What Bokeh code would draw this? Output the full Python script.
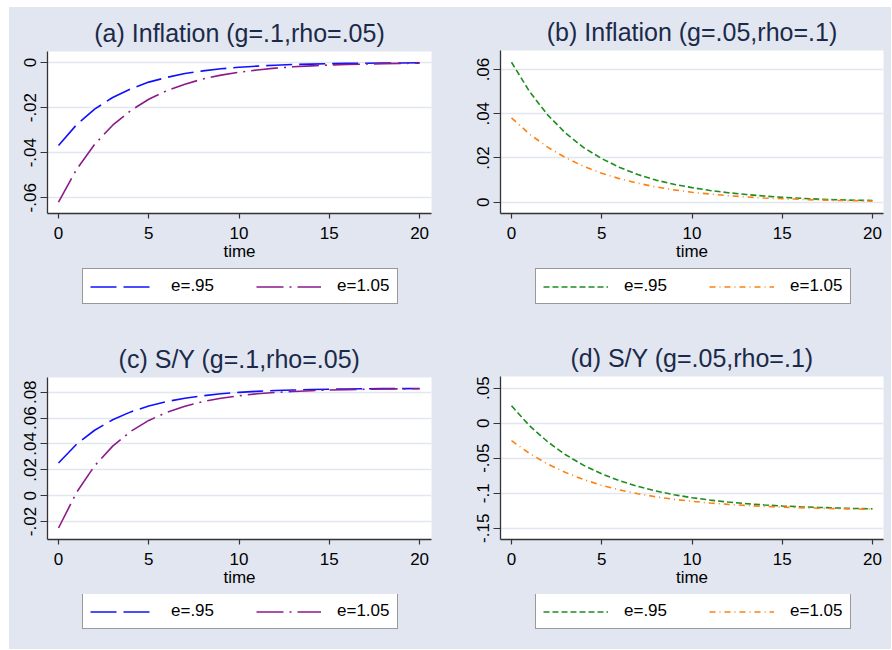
from bokeh.plotting import figure
from bokeh.models import Range1d, FixedTicker, Legend, LegendItem, Spacer
from bokeh.layouts import row, column
from bokeh.embed import file_html
from bokeh.resources import INLINE

# ---------------- data ----------------
time = list(range(21))

# (a) Inflation (g=.1, rho=.05)
infl_a_e095 = [-0.0368, -0.0276, -0.0207, -0.0155, -0.0117, -0.0087, -0.0066, -0.0049, -0.0037, -0.0028,
               -0.0021, -0.0016, -0.0012, -0.0009, -0.0007, -0.0005, -0.0004, -0.0003, -0.0002, -0.0002, -0.0001]
infl_a_e105 = [-0.0619, -0.0474, -0.0363, -0.0278, -0.0213, -0.0163, -0.0125, -0.0096, -0.0073, -0.0056,
               -0.0043, -0.0033, -0.0025, -0.0019, -0.0015, -0.0011, -0.0009, -0.0007, -0.0005, -0.0004, -0.0003]
# (b) Inflation (g=.05, rho=.1)
infl_b_e095 = [0.0633, 0.0500, 0.0395, 0.0312, 0.0247, 0.0197, 0.0157, 0.0125, 0.0100, 0.0081,
               0.0066, 0.0053, 0.0043, 0.0035, 0.0028, 0.0022, 0.0018, 0.0014, 0.0011, 0.0009, 0.0008]
infl_b_e105 = [0.0381, 0.0308, 0.0249, 0.0201, 0.0162, 0.0131, 0.0106, 0.0086, 0.0069, 0.0056,
               0.0045, 0.0037, 0.0030, 0.0024, 0.0019, 0.0016, 0.0013, 0.0010, 0.0008, 0.0007, 0.0005]
# (c) S/Y (g=.1, rho=.05)
sy_c_e095 = [0.0253, 0.0398, 0.0506, 0.0587, 0.0648, 0.0694, 0.0728, 0.0754, 0.0773, 0.0788,
             0.0799, 0.0807, 0.0813, 0.0817, 0.0821, 0.0823, 0.0825, 0.0827, 0.0828, 0.0828, 0.0829]
sy_c_e105 = [-0.0250, 0.0025, 0.0231, 0.0383, 0.0497, 0.0582, 0.0645, 0.0692, 0.0728, 0.0754,
             0.0773, 0.0788, 0.0798, 0.0806, 0.0812, 0.0817, 0.0820, 0.0823, 0.0825, 0.0826, 0.0827]
# (d) S/Y (g=.05, rho=.1)
sy_d_e095 = [0.0248, -0.0036, -0.0265, -0.0451, -0.0602, -0.0724, -0.0823, -0.0903, -0.0968, -0.1021,
             -0.1064, -0.1098, -0.1126, -0.1149, -0.1167, -0.1182, -0.1194, -0.1203, -0.1211, -0.1218, -0.1223]
sy_d_e105 = [-0.0248, -0.0432, -0.0583, -0.0705, -0.0805, -0.0887, -0.0953, -0.1007, -0.1051, -0.1087,
             -0.1116, -0.1140, -0.1159, -0.1175, -0.1188, -0.1199, -0.1207, -0.1214, -0.1220, -0.1225, -0.1228]

series_labels = ["e=.95", "e=1.05"]
titles = ["(a) Inflation (g=.1,rho=.05)", "(b) Inflation (g=.05,rho=.1)",
          "(c) S/Y (g=.1,rho=.05)", "(d) S/Y (g=.05,rho=.1)"]
x_ticks = [0, 5, 10, 15, 20]
x_title = "time"

yticks_a = [-0.06, -0.04, -0.02, 0]
ylabels_a = ["-.06", "-.04", "-.02", "0"]
yticks_b = [0, 0.02, 0.04, 0.06]
ylabels_b = ["0", ".02", ".04", ".06"]
yticks_c = [-0.02, 0, 0.02, 0.04, 0.06, 0.08]
ylabels_c = ["-.02", "0", ".02", ".04", ".06", ".08"]
yticks_d = [-0.15, -0.1, -0.05, 0, 0.05]
ylabels_d = ["-.15", "-.1", "-.05", "0", ".05"]

# ---------------- style ----------------
BG = "#e1e6f0"
GRID = "#e1e6f0"
FONT = "Liberation Sans"
AXIS_COL = "#333333"
TITLE_COL = "#1c2a4a"


def make_panel(title, ys, colors, dashes, yticks, ylabels, yr, xr, W, H, bl, br, bt, bb):
    p = figure(width=W, height=H, x_range=Range1d(*xr), y_range=Range1d(*yr),
               output_backend="svg", toolbar_location=None,
               min_border_left=bl, min_border_right=br, min_border_top=bt, min_border_bottom=bb,
               background_fill_color="white", border_fill_color=BG, outline_line_color=None)
    p.title.text = title
    p.title.align = "center"
    p.title.text_font = FONT
    p.title.text_font_size = "25px"
    p.title.text_font_style = "normal"
    p.title.text_color = TITLE_COL
    p.title.standoff = 10

    for y, c, d in zip(ys, colors, dashes):
        p.line(time, y, line_color=c, line_width=1.6, line_dash=d)

    p.xgrid.visible = False
    p.ygrid.grid_line_color = GRID
    p.ygrid.grid_line_width = 1.5
    p.ygrid.ticker = FixedTicker(ticks=yticks)

    p.xaxis.ticker = FixedTicker(ticks=x_ticks)
    p.yaxis.ticker = FixedTicker(ticks=yticks)
    p.yaxis.major_label_overrides = {t: l for t, l in zip(yticks, ylabels)}
    p.yaxis.major_label_orientation = "vertical"
    p.xaxis.axis_label = x_title
    for ax in (p.xaxis, p.yaxis):
        ax.axis_line_color = AXIS_COL
        ax.axis_line_width = 1.3
        ax.major_tick_line_color = AXIS_COL
        ax.major_tick_line_width = 1.2
        ax.major_tick_in = 0
        ax.minor_tick_line_color = None
        ax.major_label_text_font = FONT
        ax.major_label_text_font_size = "17px"
        ax.major_label_text_color = "black"
        ax.axis_label_text_font = FONT
        ax.axis_label_text_font_size = "17px"
        ax.axis_label_text_font_style = "normal"
        ax.axis_label_text_color = "black"
    p.xaxis.major_tick_out = 5
    p.yaxis.major_tick_out = 7
    p.xaxis.major_label_standoff = 8
    p.yaxis.major_label_standoff = 4
    p.xaxis.axis_label_standoff = 0
    return p


def make_legend_fig(colors, dashes, W, H, leg_xy):
    lf = figure(width=W, height=H, x_range=Range1d(0, 1), y_range=Range1d(0, 1),
                output_backend="svg", toolbar_location=None, x_axis_type=None, y_axis_type=None,
                min_border_left=0, min_border_right=0, min_border_top=0, min_border_bottom=0,
                background_fill_color=BG, border_fill_color=BG, outline_line_color=None)
    lf.xgrid.visible = False
    lf.ygrid.visible = False
    # legend keys only: kept outside the (0, 1) view so nothing shows but the key glyphs
    keys = [lf.line(x=[-2, -1], y=[-2, -1], line_color=c, line_width=1.6, line_dash=d)
            for c, d in zip(colors, dashes)]
    legend = Legend(items=[LegendItem(label=series_labels[i], renderers=[keys[i]]) for i in range(2)],
                    orientation="horizontal", location=leg_xy)
    legend.label_text_font = FONT
    legend.label_text_font_size = "17px"
    legend.label_text_color = "black"
    legend.glyph_width = 65
    legend.glyph_height = 17
    legend.label_height = 17
    legend.label_standoff = 16
    legend.spacing = 42
    legend.padding = 7
    legend.margin = 0
    legend.border_line_color = AXIS_COL
    legend.border_line_width = 1.4
    legend.background_fill_color = "white"
    legend.background_fill_alpha = 1.0
    lf.add_layout(legend)
    return lf


blue, purple, green, orange = "#1010ff", "#8b1a8b", "#1e8c1e", "#ff8010"
d_long, d_longdot = "26 7", "27 6 2 6"
d_short, d_dashdot = "6 3", "6 4 1 4"
ab_cols, ab_dash = [blue, purple], [d_long, d_longdot]
bd_cols, bd_dash = [green, orange], [d_short, d_dashdot]

pa = make_panel(titles[0], [infl_a_e095, infl_a_e105], ab_cols, ab_dash,
                yticks_a, ylabels_a, (-0.06696, 0.00488), (-0.61, 20.66), 452, 261, 38, 30, 44, 55)
pb = make_panel(titles[1], [infl_b_e095, infl_b_e105], bd_cols, bd_dash,
                yticks_b, ylabels_b, (-0.0051, 0.0686), (-0.61, 20.61), 430, 261, 39, 8, 43, 55)
pc = make_panel(titles[2], [sy_c_e095, sy_c_e105], ab_cols, ab_dash,
                yticks_c, ylabels_c, (-0.0339, 0.0914), (-0.61, 20.66), 452, 261, 38, 30, 44, 55)
pd = make_panel(titles[3], [sy_d_e095, sy_d_e105], bd_cols, bd_dash,
                yticks_d, ylabels_d, (-0.1661, 0.0667), (-0.61, 20.61), 430, 261, 39, 8, 43, 55)

la = make_legend_fig(ab_cols, ab_dash, 452, 65, (35, 29))
lb = make_legend_fig(bd_cols, bd_dash, 430, 65, (35, 29))
lc = make_legend_fig(ab_cols, ab_dash, 452, 55, (35, 20))
ld = make_legend_fig(bd_cols, bd_dash, 430, 55, (35, 20))

grid = column(row(column(pa, la, spacing=0), column(pb, lb, spacing=0), spacing=0),
              row(column(pc, lc, spacing=0), column(pd, ld, spacing=0), spacing=0),
              spacing=0, styles={"background-color": BG})
layout = column(Spacer(width=10, height=7), row(Spacer(width=9, height=10), grid, spacing=0), spacing=0)
open("out.html", "w").write(file_html(layout, INLINE))
